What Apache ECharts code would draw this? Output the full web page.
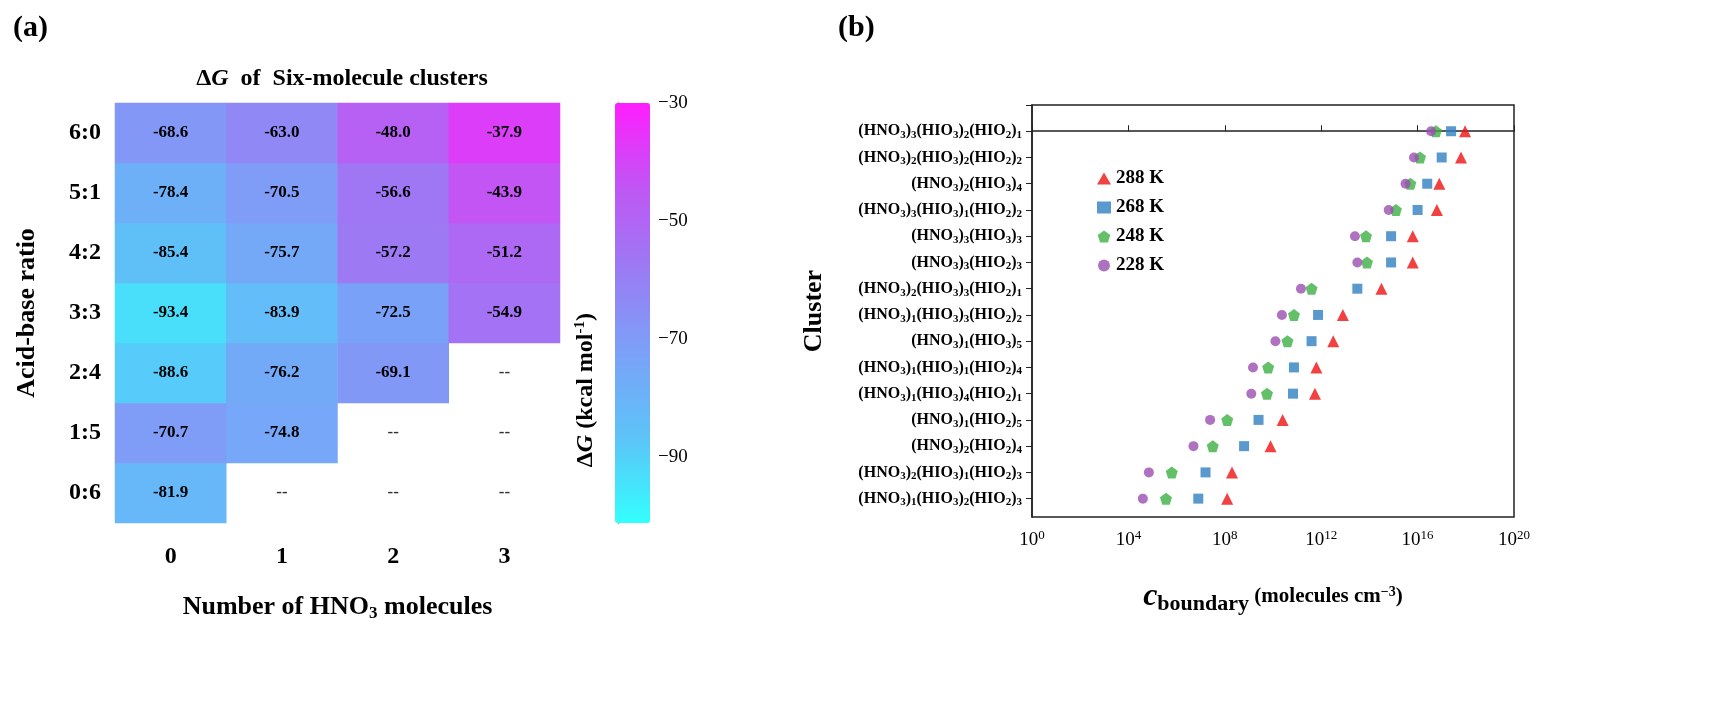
<!DOCTYPE html>
<html><head><meta charset="utf-8">
<script src="https://cdn.jsdelivr.net/npm/echarts@6/dist/echarts.min.js"></script>
<style>html,body{margin:0;padding:0;background:#fff}#main{width:1733px;height:702px}</style>
</head><body><div id="main"></div>
<script>
// heatmap (a)
const hnoCounts = ['0', '1', '2', '3'];
const ratios = ['0:6', '1:5', '2:4', '3:3', '4:2', '5:1', '6:0']; // bottom to top
const dG = [ // rows follow ratios, null = '--'
    [-81.9, null, null, null],
    [-70.7, -74.8, null, null],
    [-88.6, -76.2, -69.1, null],
    [-93.4, -83.9, -72.5, -54.9],
    [-85.4, -75.7, -57.2, -51.2],
    [-78.4, -70.5, -56.6, -43.9],
    [-68.6, -63.0, -48.0, -37.9]
];
const cbarTicks = [-90, -70, -50, -30];

// scatter (b), top to bottom, log10 of c_boundary
const clusters = [
    '(HNO3)3(HIO3)2(HIO2)1', '(HNO3)2(HIO3)2(HIO2)2', '(HNO3)2(HIO3)4', '(HNO3)3(HIO3)1(HIO2)2',
    '(HNO3)3(HIO3)3', '(HNO3)3(HIO2)3', '(HNO3)2(HIO3)3(HIO2)1', '(HNO3)1(HIO3)3(HIO2)2',
    '(HNO3)1(HIO3)5', '(HNO3)1(HIO3)1(HIO2)4', '(HNO3)1(HIO3)4(HIO2)1', '(HNO3)1(HIO2)5',
    '(HNO3)2(HIO2)4', '(HNO3)2(HIO3)1(HIO2)3', '(HNO3)1(HIO3)2(HIO2)3'
];
const logC288 = [17.97, 17.8, 16.9, 16.8, 15.8, 15.8, 14.5, 12.9, 12.5, 11.8, 11.74, 10.4, 9.9, 8.3, 8.1];
const logC268 = [17.39, 17.0, 16.4, 16.0, 14.9, 14.9, 13.5, 11.87, 11.6, 10.87, 10.83, 9.4, 8.8, 7.2, 6.9];
const logC248 = [16.76, 16.1, 15.7, 15.1, 13.86, 13.9, 11.6, 10.87, 10.6, 9.8, 9.75, 8.1, 7.5, 5.8, 5.56];
const logC228 = [16.56, 15.85, 15.5, 14.8, 13.4, 13.5, 11.16, 10.37, 10.1, 9.17, 9.1, 7.39, 6.7, 4.85, 4.6];

const F = '"Liberation Serif","DejaVu Serif",serif';
const chart = echarts.init(document.getElementById('main'));

const heat = [], dash = [];
dG.forEach((row, r) => row.forEach((v, c) => {
    if (v === null) dash.push([c, r]); else heat.push([c, r, v]);
}));
function subLabel(s) {
    return s.split('').map(ch => /\d/.test(ch) ? '{s|' + ch + '}' : '{n|' + ch + '}').join('');
}
const pts = arr => arr.map((v, i) => [Math.pow(10, v), i]);

chart.setOption({
    textStyle: { fontFamily: F },
    title: [
        { text: '(a)', left: 8, top: 8, textStyle: { fontFamily: F, fontSize: 30, fontWeight: 'bold', color: '#000' } },
        { text: '(b)', left: 833, top: 8, textStyle: { fontFamily: F, fontSize: 30, fontWeight: 'bold', color: '#000' } },
        { text: '{d|Δ}{g|G}{d|  of  Six-molecule clusters}', left: 337, top: 62, textAlign: 'center',
          textStyle: { rich: { d: { fontFamily: F, fontSize: 24, fontWeight: 'bold', color: '#000' },
                               g: { fontFamily: F, fontSize: 24, fontWeight: 'bold', fontStyle: 'italic', color: '#000' } } } }
    ],
    grid: [
        { left: 115, width: 445, top: 103, height: 420 },
        { left: 618, width: 32, top: 103, height: 420, show: false },
        { left: 1032, width: 482, top: 105, height: 412, show: true, borderColor: '#222', borderWidth: 1.5 }
    ],
    xAxis: [
        { type: 'category', gridIndex: 0, data: hnoCounts, axisLine: { show: false }, axisTick: { show: false },
          axisLabel: { fontFamily: F, fontSize: 24, fontWeight: 'bold', color: '#000', margin: 22 },
          name: '{t|Number of HNO}{s|3}{t| molecules}', nameLocation: 'middle', nameGap: 70,
          nameTextStyle: { rich: { t: { fontFamily: F, fontSize: 26, fontWeight: 'bold', color: '#000' },
                                   s: { fontFamily: F, fontSize: 17, fontWeight: 'bold', color: '#000', padding: [12, 0, 0, 0] } } } },
        { type: 'value', gridIndex: 1, show: false },
        { type: 'log', gridIndex: 2, min: 1, max: 1e20, interval: 4, logBase: 10,
          axisLine: { lineStyle: { color: '#222', width: 1.5 } }, axisTick: { inside: true, length: 6, lineStyle: { color: '#222' } },
          minorTick: { show: false }, splitLine: { show: false },
          axisLabel: { color: '#000', margin: 12, formatter: v => '{b|10}{p|' + Math.round(Math.log10(v)) + '}',
            rich: { b: { fontFamily: F, fontSize: 19, color: '#000' }, p: { fontFamily: F, fontSize: 13, color: '#000', padding: [0, 0, 10, 0] } } },
          name: '{c|c}{sub|boundary}{t| (molecules cm}{sup|−3}{t|)}', nameLocation: 'middle', nameGap: 62,
          nameTextStyle: { rich: {
            c: { fontFamily: F, fontSize: 32, fontWeight: 'bold', fontStyle: 'italic', color: '#000' },
            sub: { fontFamily: F, fontSize: 22, fontWeight: 'bold', color: '#000', padding: [14, 0, 0, 0] },
            t: { fontFamily: F, fontSize: 21, fontWeight: 'bold', color: '#000' },
            sup: { fontFamily: F, fontSize: 14, fontWeight: 'bold', color: '#000', padding: [0, 0, 10, 0] } } } }
    ],
    yAxis: [
        { type: 'category', gridIndex: 0, data: ratios, axisLine: { show: false }, axisTick: { show: false },
          axisLabel: { fontFamily: F, fontSize: 24, fontWeight: 'bold', color: '#000', margin: 14 },
          name: 'Acid-base ratio', nameLocation: 'middle', nameGap: 75,
          nameTextStyle: { fontFamily: F, fontSize: 26, fontWeight: 'bold', color: '#000' } },
        { type: 'value', gridIndex: 1, position: 'right', min: -101.2, max: -30,
          axisLine: { show: true, lineStyle: { color: '#222' } }, splitLine: { show: false },
          axisTick: { show: true, length: 6, customValues: cbarTicks, lineStyle: { color: '#222' } },
          axisLabel: { customValues: cbarTicks, fontFamily: F, fontSize: 19, color: '#000', margin: 8, formatter: v => '−' + Math.abs(v) } },
        { type: 'value', gridIndex: 2, inverse: true, min: -1, max: 14.7, interval: 1,
          axisLine: { lineStyle: { color: '#222', width: 1.5 } }, splitLine: { show: false },
          axisTick: { length: 6, lineStyle: { color: '#222' } },
          axisLabel: { margin: 10, showMaxLabel: false,
            formatter: v => { const i = Math.round(v); return (Math.abs(v - i) < 1e-6 && i >= 0 && i < clusters.length) ? subLabel(clusters[i]) : ''; },
            rich: { n: { fontFamily: F, fontSize: 16, fontWeight: 'bold', color: '#000' },
                    s: { fontFamily: F, fontSize: 11, fontWeight: 'bold', color: '#000', padding: [8, 0, 0, 0] } } },
          name: 'Cluster', nameLocation: 'middle', nameGap: 205,
          nameTextStyle: { fontFamily: F, fontSize: 26, fontWeight: 'bold', color: '#000' } }
    ],
    visualMap: {
        type: 'continuous', seriesIndex: 0, min: -101.2, max: -30, left: 615, top: 103,
        itemWidth: 35, itemHeight: 420, padding: 0, text: ['', ''], calculable: false, showLabel: false,
        inRange: { color: ['#33ffff', '#5cc4f8', '#7aa2f8', '#9a7cf4', '#c056f4', '#ff1eff'] }
    },
    graphic: [{
        type: 'text', left: 573, top: 313, rotation: Math.PI / 2, origin: [0, 0],
        style: { text: '{d|Δ}{g|G}{d| (kcal mol}{p|-1}{d|)}', rich: {
            d: { fontFamily: F, fontSize: 24, fontWeight: 'bold', fill: '#000' },
            g: { fontFamily: F, fontSize: 24, fontWeight: 'bold', fontStyle: 'italic', fill: '#000' },
            p: { fontFamily: F, fontSize: 15, fontWeight: 'bold', fill: '#000', padding: [0, 0, 10, 0] } } }
    }],
    legend: {
        orient: 'vertical', left: 1092, top: 164, itemGap: 10, itemWidth: 14, itemHeight: 12,
        textStyle: { fontFamily: F, fontSize: 19, fontWeight: 'bold', color: '#000' },
        data: ['288 K', '268 K', '248 K', '228 K']
    },
    series: [
        { type: 'heatmap', xAxisIndex: 0, yAxisIndex: 0, data: heat,
          label: { show: true, fontFamily: F, fontSize: 17, fontWeight: 'bold', color: '#000', formatter: p => p.value[2].toFixed(1) } },
        { type: 'scatter', xAxisIndex: 0, yAxisIndex: 0, data: dash, symbolSize: 0, silent: true,
          label: { show: true, position: 'inside', formatter: '--', fontFamily: F, fontSize: 17, fontWeight: 'bold', color: '#000' } },
        { name: '288 K', type: 'scatter', xAxisIndex: 2, yAxisIndex: 2, data: pts(logC288), symbol: 'triangle', symbolSize: 12, itemStyle: { color: '#ee1111' } },
        { name: '268 K', type: 'scatter', xAxisIndex: 2, yAxisIndex: 2, data: pts(logC268), symbol: 'rect', symbolSize: 10, itemStyle: { color: '#2f7fc1' } },
        { name: '248 K', type: 'scatter', xAxisIndex: 2, yAxisIndex: 2, data: pts(logC248),
          symbol: 'path://M0,-1L0.95,-0.31L0.59,0.81L-0.59,0.81L-0.95,-0.31Z', symbolSize: 12, itemStyle: { color: '#3cb043' } },
        { name: '228 K', type: 'scatter', xAxisIndex: 2, yAxisIndex: 2, data: pts(logC228), symbol: 'circle', symbolSize: 10, itemStyle: { color: '#9b4fb0' } }
    ]
});
</script></body></html>
